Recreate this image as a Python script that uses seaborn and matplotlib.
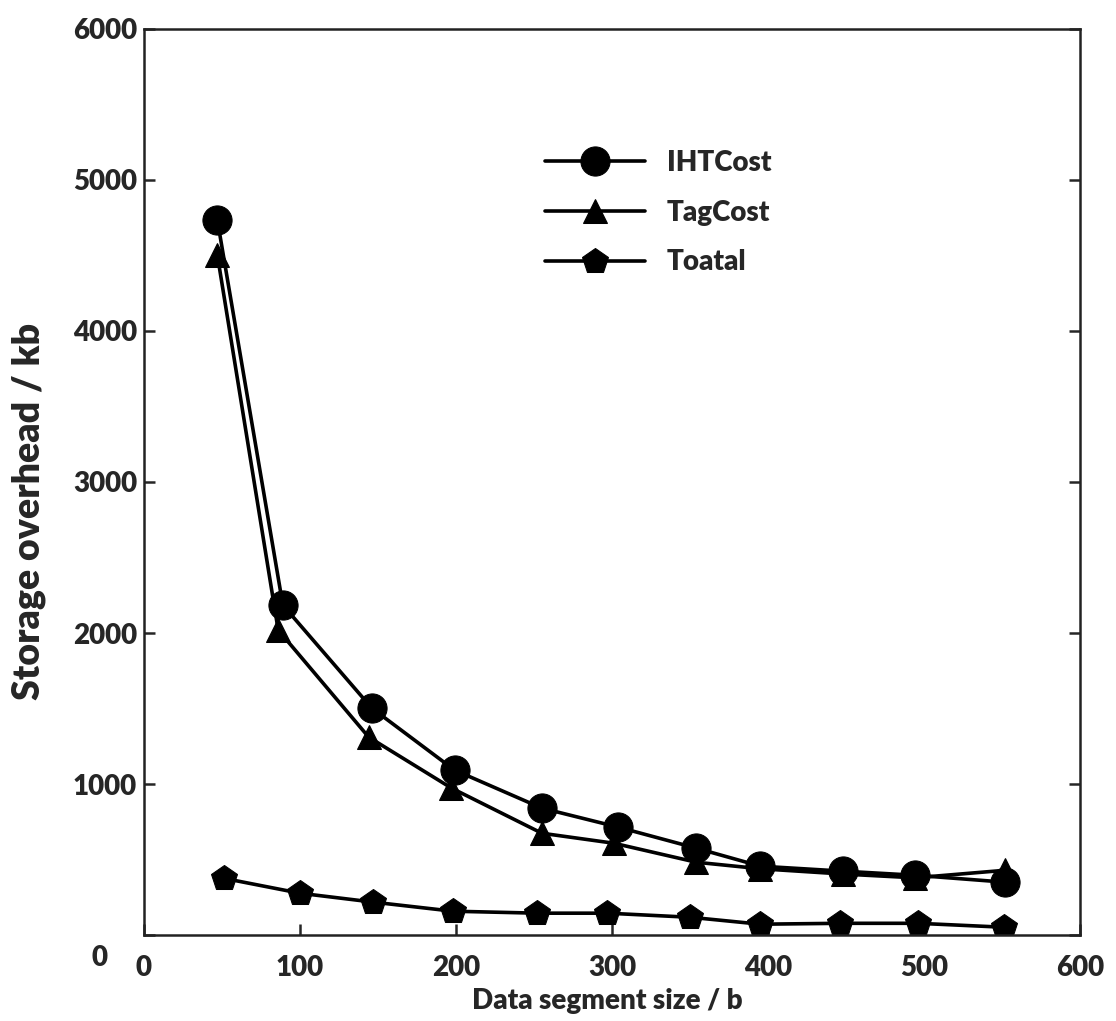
import numpy as np
import pandas as pd
import matplotlib
matplotlib.use('Agg')
import matplotlib.pyplot as plt
import seaborn as sns

# Values
iht_x = [47, 89, 146, 199, 255, 304, 354, 395, 448, 494, 552]
iht_y = [4735, 2185, 1503, 1093, 841, 715, 576, 457, 424, 397, 351]

tag_x = [47, 86, 144, 197, 255, 301, 354, 395, 448, 494, 552]
tag_y = [4503, 2020, 1311, 974, 675, 609, 483, 440, 405, 380, 430]

total_x = [51, 100, 147, 198, 252, 297, 350, 395, 446, 496, 551]
total_y = [377, 278, 219, 159, 146, 146, 119, 73, 79, 79, 53]

x_ticks = [0, 100, 200, 300, 400, 500, 600]
y_ticks = [0, 1000, 2000, 3000, 4000, 5000, 6000]

sns.set_style('ticks')
plt.rcParams['font.family'] = ['Lato', 'DejaVu Sans']
plt.rcParams['font.weight'] = 'heavy'
W = 'heavy'

fig = plt.figure(figsize=(11.16, 10.21), dpi=100)
ax = fig.add_axes([0.129, 0.084, 0.839, 0.888])

series = [
    ('IHTCost', iht_x, iht_y, 'o', 21),
    ('TagCost', tag_x, tag_y, '^', 17),
    ('Toatal', total_x, total_y, 'p', 19),
]
for name, xs, ys, mk, ms in series:
    df = pd.DataFrame({'x': xs, 'y': ys})
    sns.lineplot(data=df, x='x', y='y', ax=ax, color='black', linewidth=2.6,
                 marker=mk, markersize=ms, markeredgecolor='black',
                 markerfacecolor='black', label=name, sort=False)

ax.set_xlim(0, 600)
ax.set_ylim(0, 6000)
ax.set_xticks(x_ticks)
ax.set_yticks(y_ticks)
ax.set_yticklabels([''] + [str(v) for v in y_ticks[1:]])
ax.text(-0.047, -0.025, '0', transform=ax.transAxes, fontsize=20,
        fontweight=W, ha='center', va='center')

ax.tick_params(axis='both', direction='in', labelsize=20, width=1.8, length=8)
ax.tick_params(axis='y', right=True, pad=5)
ax.tick_params(axis='x', pad=14)
for s in ax.spines.values():
    s.set_linewidth(1.8)
    s.set_color('#222222')

ax.set_xlabel('Data segment size / b', fontsize=20, fontweight=W)
ax.set_ylabel('Storage overhead / kb', fontsize=27, fontweight=W)
ax.xaxis.set_label_coords(0.495, -0.058)
ax.yaxis.set_label_coords(-0.105, 0.467)

ax.legend(loc='upper left', bbox_to_anchor=(0.428, 0.866), frameon=False,
          fontsize=20, handlelength=3.6, handletextpad=0.8, labelspacing=0.85,
          borderpad=0, borderaxespad=0)

fig.savefig('out.png', dpi=100)
